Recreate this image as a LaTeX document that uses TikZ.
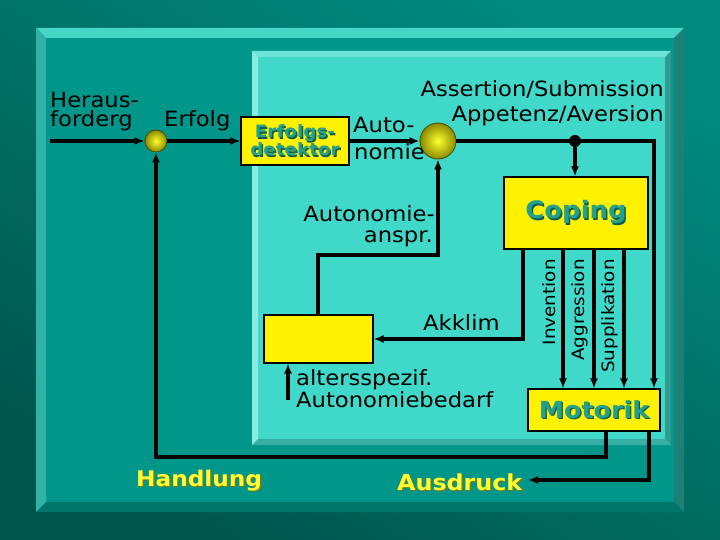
\documentclass[tikz,border=0pt]{standalone}
\usepackage{fontspec}
\setmainfont{DejaVu Sans}[FakeStretch=1.08]
\usetikzlibrary{arrows.meta}
\definecolor{bgTL}{HTML}{00897D}
\definecolor{bgBR}{HTML}{00564D}
\definecolor{oFace}{HTML}{00978A}
\definecolor{oTop}{HTML}{45D6C6}
\definecolor{oLeft}{HTML}{30B2A4}
\definecolor{oRight}{HTML}{1C8077}
\definecolor{oBot}{HTML}{00766B}
\definecolor{iFace}{HTML}{40D8C8}
\definecolor{iTop}{HTML}{6EE4D9}
\definecolor{iLeft}{HTML}{88ECE4}
\definecolor{iRight}{HTML}{2E9A90}
\definecolor{iBot}{HTML}{36B0A4}
\definecolor{tealTxt}{HTML}{24A08C}
\definecolor{tealSh}{HTML}{0B5E50}
\definecolor{yelTxt}{HTML}{FFFF33}
\definecolor{yelSh}{HTML}{7A7A10}
\definecolor{jIn}{HTML}{FFFF30}
\definecolor{jOut}{HTML}{8A8A00}
\definecolor{jDark}{HTML}{4A4A00}
\newcommand{\shtext}[3]{\leavevmode\rlap{\kern1.4pt\raisebox{-1.4pt}{\color{#2}#3}}{\color{#1}#3}}
\begin{document}
\begin{tikzpicture}[x=1pt,y=-1pt,
  ln/.style={line width=3.2pt, black},
  arr/.style={ln, -{Latex[length=10pt,width=8pt]}},
  ybox/.style={draw=black, line width=1.1pt, fill=yellow, inner sep=0pt},
  junc/.style={circle, draw=jDark, line width=0.8pt, inner color=jIn, outer color=jOut, inner sep=0pt},
  lbl/.style={inner sep=0pt, font=\fontsize{21}{24}\selectfont},
  rlbl/.style={inner sep=0pt, rotate=90, anchor=base east, font=\fontsize{17}{18}\selectfont},
]
\useasboundingbox (0,0) rectangle (720,540);
% background
\shade[left color=bgTL, right color=bgBR, shading angle=-30] (0,0) rectangle (720,540);
% outer panel
\fill[oFace] (36,28) rectangle (684,512);
\fill[oTop] (36,28) -- (684,28) -- (674,38) -- (46,38) -- cycle;
\fill[oLeft] (36,28) -- (46,38) -- (46,502) -- (36,512) -- cycle;
\fill[oRight] (684,28) -- (674,38) -- (674,502) -- (684,512) -- cycle;
\fill[oBot] (36,512) -- (46,502) -- (674,502) -- (684,512) -- cycle;
% inner panel
\fill[iFace] (252,51) rectangle (671,445);
\fill[iTop] (252,51) -- (671,51) -- (665,57) -- (258,57) -- cycle;
\fill[iLeft] (252,51) -- (258,57) -- (258,439) -- (252,445) -- cycle;
\fill[iRight] (671,51) -- (665,57) -- (665,439) -- (671,445) -- cycle;
\fill[iBot] (252,445) -- (258,439) -- (665,439) -- (671,445) -- cycle;

% nodes
\node[junc, minimum size=22pt] (c1) at (156,141) {};
\node[ybox, minimum width=108pt, minimum height=48pt, align=center,
  font=\fontsize{17}{18}\selectfont\bfseries] (det) at (295,141)
  {\shtext{tealTxt}{tealSh}{Erfolgs-}\\\shtext{tealTxt}{tealSh}{detektor}};
\node[junc, minimum size=36pt] (c2) at (438,141) {};
\node[ybox, minimum width=144pt, minimum height=72pt,
  font=\fontsize{24}{26}\selectfont\bfseries] (coping) at (576,213)
  {\shtext{tealTxt}{tealSh}{Coping}};
\node[ybox, minimum width=132pt, minimum height=42pt,
  font=\fontsize{23.5}{26}\selectfont\bfseries] (motorik) at (594,410)
  {\shtext{tealTxt}{tealSh}{Motorik}};
\node[ybox, minimum width=109pt, minimum height=48pt] (ybx) at (318.5,339) {};

\coordinate (in) at (50,141);
\coordinate (tr) at (654,141);
\coordinate (ak) at (523,339);
\coordinate (an) at (318,255);
\coordinate (an2) at (438,255);
\coordinate (alt) at (288,400);
\coordinate (hb) at (606,457);
\coordinate (hl) at (156,457);
\coordinate (ab) at (649,480);
\coordinate (ae) at (528,480);
\coordinate (v1) at (563,300);
\coordinate (v2) at (594,300);
\coordinate (v3) at (624,300);

% connectors
\draw[arr] (in) -- (c1);
\draw[arr] (c1) -- (det);
\draw[arr] (det) -- (c2);
\draw[arr] (c2.east) -- (tr) -- (motorik.north -| tr);
\node[circle, fill=black, minimum size=12pt, inner sep=0pt] (dot) at (575,141) {};
\draw[arr] (dot) -- (coping.north -| dot);
\draw[arr] (coping.south -| ak) -- (ak) -- (ybx.east);
\draw[arr] (coping.south -| v1) -- (motorik.north -| v1);
\draw[arr] (coping.south -| v2) -- (motorik.north -| v2);
\draw[arr] (coping.south -| v3) -- (motorik.north -| v3);
\draw[arr] (ybx.north -| an) -- (an) -- (an2) -- (c2.south);
\draw[arr] (alt) -- (ybx.south -| alt);
\draw[arr] (motorik.south -| hb) -- (hb) -- (hl) -- (c1.south);
\draw[arr] (motorik.south -| ab) -- (ab) -- (ae);

% labels
\node[lbl, anchor=base west] (herA) at (50,108) {Heraus-};
\node[lbl, anchor=base west] (herB) at (50,127) {forderg};
\node[lbl, anchor=base west] (erfolg) at (164,127) {Erfolg};
\node[lbl, anchor=base west] (auto) at (353,133) {Auto-};
\node[lbl, anchor=base west] (nomie) at (354,160) {nomie};
\node[lbl, anchor=base east] (assert) at (664,97) {Assertion/Submission};
\node[lbl, anchor=base east] (appet) at (664,122) {Appetenz/Aversion};
\node[lbl, anchor=base east] (aanA) at (435,222) {Autonomie-};
\node[lbl, anchor=base east] (aanB) at (433,242) {anspr.};
\node[lbl, anchor=base west] (akklim) at (423,330) {Akklim};
\node[lbl, anchor=base west] (alter) at (296,385) {altersspezif.};
\node[lbl, anchor=base west] (autbed) at (296,407) {Autonomiebedarf};
\node[rlbl] (inv) at (555,259) {Invention};
\node[rlbl] (aggr) at (584,259) {Aggression};
\node[rlbl] (supp) at (614,259) {Supplikation};
\node[inner sep=0pt, anchor=base west, font=\fontsize{21.5}{24}\selectfont\bfseries] (handl) at (136,486)
  {\shtext{yelTxt}{yelSh}{Handlung}};
\node[inner sep=0pt, anchor=base west, font=\fontsize{22}{24}\selectfont\bfseries] (ausdr) at (397,490)
  {\shtext{yelTxt}{yelSh}{Ausdruck}};
\end{tikzpicture}
\end{document}
